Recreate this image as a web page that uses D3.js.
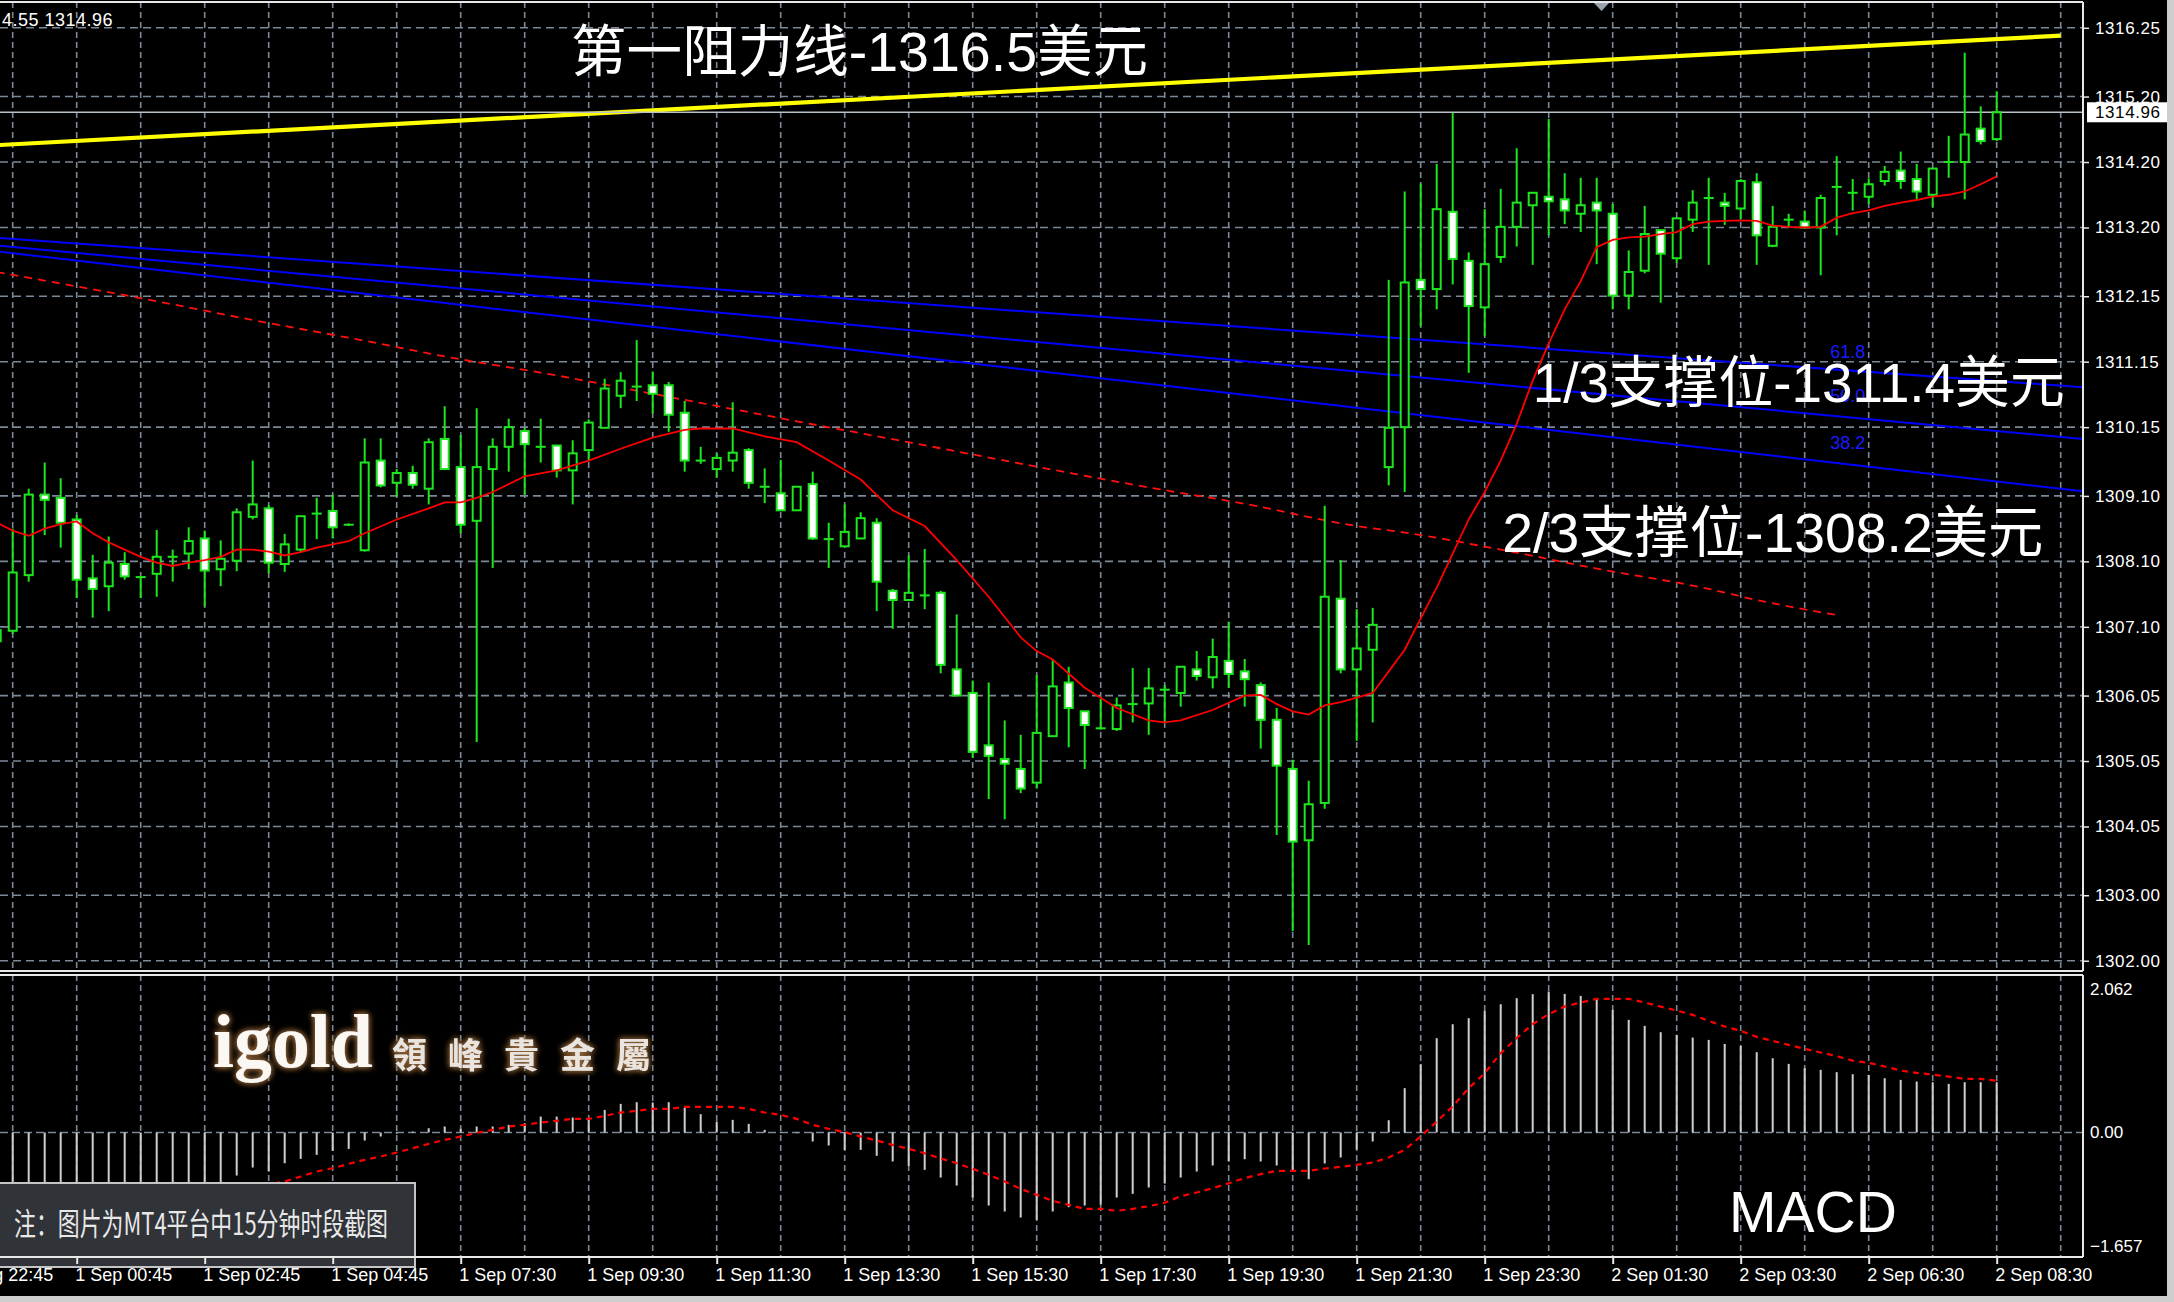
<!DOCTYPE html>
<html><head><meta charset="utf-8">
<script src="https://cdn.jsdelivr.net/npm/d3@7"></script>
<style>
html,body{margin:0;padding:0;background:#000;overflow:hidden;}
svg{display:block;}
</style></head><body>
<svg id="c" width="2174" height="1302"></svg>
<script>
// ---------------- DATA ----------------
const firstIndex = -1; // candle index of first entry (15-minute bars)
const opens = [1306.88,1307.04,1307.89,1309.12,1309.07,1308.74,1307.84,1307.72,1308.06,1307.86,1307.91,1308.17,1308.22,1308.45,1307.98,1308.11,1308.78,1308.91,1308.06,1308.28,1308.83,1308.87,1308.66,1308.27,1309.64,1309.30,1309.45,1309.21,1309.97,1309.54,1308.72,1309.51,1309.85,1310.09,1309.85,1309.87,1309.49,1309.80,1310.14,1310.63,1310.77,1310.79,1310.79,1310.37,1309.64,1309.51,1309.64,1309.80,1309.24,1309.14,1308.88,1309.28,1308.44,1308.33,1308.45,1308.69,1307.65,1307.51,1307.58,1307.62,1306.45,1306.09,1305.29,1305.08,1304.93,1304.72,1305.43,1306.25,1305.81,1305.55,1305.54,1305.92,1305.93,1306.14,1306.09,1306.45,1306.33,1306.58,1306.42,1306.21,1305.68,1304.93,1303.84,1304.41,1307.53,1306.45,1306.75,1309.54,1310.15,1312.40,1312.26,1313.44,1312.69,1311.98,1312.75,1313.21,1313.54,1313.67,1313.63,1313.41,1313.58,1313.41,1312.16,1312.54,1313.16,1312.73,1313.32,1313.65,1313.58,1313.49,1313.89,1312.92,1313.32,1313.29,1313.20,1313.82,1313.73,1313.67,1313.91,1314.07,1313.94,1313.70,1314.20,1314.20,1314.71,1314.55];
const highs = [1307.30,1308.60,1309.21,1309.61,1309.37,1308.81,1308.20,1308.48,1308.24,1307.87,1308.58,1308.28,1308.62,1308.57,1308.42,1308.91,1309.64,1308.96,1308.52,1308.79,1309.07,1309.12,1308.68,1309.98,1309.98,1309.51,1309.56,1309.98,1310.47,1310.03,1310.44,1309.98,1310.28,1310.14,1310.28,1309.87,1309.95,1310.27,1310.89,1310.99,1311.48,1311.00,1310.84,1310.55,1309.85,1309.75,1310.53,1309.83,1309.52,1309.65,1309.24,1309.47,1308.69,1308.97,1308.85,1308.76,1307.68,1308.19,1308.29,1307.65,1307.29,1306.28,1306.25,1305.67,1305.45,1306.36,1306.61,1306.49,1305.81,1306.00,1306.02,1306.47,1306.47,1306.21,1306.49,1306.73,1306.92,1307.18,1306.61,1306.25,1305.86,1305.07,1304.75,1308.95,1308.12,1307.37,1307.39,1312.40,1313.75,1313.87,1314.17,1314.95,1312.82,1313.48,1313.79,1314.41,1313.73,1314.86,1314.03,1313.96,1313.96,1313.56,1312.85,1313.53,1313.16,1313.34,1313.77,1313.96,1313.73,1313.94,1314.03,1313.53,1313.41,1313.46,1313.70,1314.29,1313.94,1313.95,1314.14,1314.36,1314.17,1314.10,1314.60,1315.87,1315.05,1315.28];
const lows = [1306.70,1306.99,1307.79,1308.50,1308.31,1307.54,1307.24,1307.34,1307.82,1307.54,1307.56,1307.79,1307.98,1307.41,1307.72,1307.95,1308.74,1307.92,1307.94,1308.24,1308.44,1308.45,1308.64,1308.25,1309.23,1309.09,1309.21,1308.97,1309.51,1308.53,1305.34,1308.00,1309.47,1309.12,1309.61,1309.38,1308.97,1309.64,1310.14,1310.44,1310.55,1310.36,1310.08,1309.47,1309.59,1309.38,1309.47,1309.21,1308.99,1308.88,1308.88,1308.43,1308.00,1308.33,1308.45,1307.34,1307.07,1307.51,1307.37,1306.39,1306.05,1305.10,1304.47,1304.16,1304.56,1304.63,1305.43,1305.26,1304.93,1305.53,1305.51,1305.64,1305.45,1305.64,1305.88,1306.28,1306.16,1306.17,1305.88,1305.24,1303.92,1302.45,1302.24,1304.32,1306.39,1305.36,1305.64,1309.26,1309.16,1311.69,1311.95,1312.33,1310.98,1311.54,1312.66,1312.91,1312.63,1313.08,1313.25,1313.13,1312.64,1311.95,1311.95,1312.50,1312.05,1312.66,1313.13,1312.63,1313.24,1313.32,1312.63,1312.90,1313.20,1313.18,1312.47,1313.08,1313.46,1313.56,1313.84,1313.79,1313.63,1313.51,1313.96,1313.63,1314.47,1314.52];
const closes = [1307.05,1307.93,1309.12,1309.04,1308.69,1307.82,1307.68,1308.08,1307.87,1307.86,1308.17,1308.17,1308.41,1307.96,1308.14,1308.85,1308.97,1308.08,1308.36,1308.79,1308.83,1308.62,1308.66,1309.61,1309.26,1309.45,1309.27,1309.92,1309.51,1308.66,1309.54,1309.85,1310.15,1309.89,1309.85,1309.49,1309.75,1310.22,1310.74,1310.86,1310.77,1310.66,1310.34,1309.64,1309.64,1309.68,1309.76,1309.30,1309.24,1308.88,1309.24,1308.45,1308.44,1308.55,1308.76,1307.79,1307.51,1307.62,1307.58,1306.52,1306.05,1305.19,1305.13,1305.01,1304.63,1305.48,1306.19,1305.86,1305.60,1305.55,1305.90,1305.92,1306.16,1306.14,1306.49,1306.35,1306.64,1306.38,1306.30,1305.68,1304.98,1303.82,1304.39,1307.56,1306.45,1306.77,1307.13,1310.14,1312.36,1312.26,1313.48,1312.72,1312.00,1312.64,1313.21,1313.58,1313.73,1313.60,1313.46,1313.54,1313.46,1312.16,1312.52,1313.10,1312.80,1313.34,1313.58,1313.65,1313.53,1313.91,1313.08,1313.21,1313.32,1313.20,1313.65,1313.82,1313.73,1313.86,1314.05,1313.91,1313.75,1314.10,1314.20,1314.62,1314.52,1314.96];

// moving average (solid red), read at these candle indices
const maK = [-1,0,1,2,3,4,5,6,7,8,9,10,11,12,13,14,15,16,17,18,19,20,21,22,24,26,27,28,29,30,32,34,36,38,40,42,43,45,47,49,51,53,55,57,59,61,63,64,65,67,69,71,72,73,75,77,78,79,80,81,82,83,84,85,86,87,88,89,90,91,92,93,94,95,96,97,98,99,100,101,102,103,104,105,106,107,108,109,110,111,112,113,114,115,116,117,118,119,120,121,122,123,124];
const maV = [1308.69,1308.57,1308.49,1308.60,1308.67,1308.71,1308.53,1308.39,1308.28,1308.17,1308.08,1308.03,1308.08,1308.12,1308.17,1308.28,1308.28,1308.25,1308.19,1308.24,1308.31,1308.36,1308.41,1308.53,1308.74,1308.91,1309.00,1309.00,1309.07,1309.16,1309.40,1309.49,1309.64,1309.82,1309.99,1310.11,1310.13,1310.13,1310.01,1309.92,1309.64,1309.35,1308.88,1308.64,1308.12,1307.56,1306.94,1306.73,1306.60,1306.17,1305.86,1305.67,1305.64,1305.67,1305.83,1306.05,1306.06,1305.92,1305.81,1305.76,1305.90,1305.95,1306.02,1306.09,1306.42,1306.75,1307.23,1307.70,1308.22,1308.74,1309.16,1309.64,1310.20,1310.86,1311.43,1311.95,1312.38,1312.90,1313.01,1313.05,1313.06,1313.10,1313.13,1313.25,1313.29,1313.30,1313.31,1313.30,1313.23,1313.21,1313.20,1313.21,1313.35,1313.42,1313.46,1313.53,1313.58,1313.62,1313.67,1313.70,1313.75,1313.86,1313.98];

// long moving average (dashed red)
const maLongK = [-1,8,16,22,27,34,40,49,56,65,71,77,84,87,93,99,106,109,114];
const maLongV = [1312.52,1312.12,1311.74,1311.47,1311.23,1310.94,1310.66,1310.24,1309.92,1309.50,1309.23,1308.98,1308.64,1308.54,1308.28,1307.99,1307.68,1307.51,1307.28];

// resistance trend line (yellow) and fibonacci fan lines (blue)
const resistK = [-0.8, 128];
const resistP = [1314.46, 1316.13];
const fibK = [-0.8, 129.4];
const fibNames = ["61.8", "50.0", "38.2"];
const fib618 = [1313.04, 1310.76];
const fib500 = [1312.92, 1309.97];
const fib382 = [1312.83, 1309.17];
const fibLabelK = 113.6;
const fibLabelP = [1311.21, 1310.54, 1309.82];

const lastPrice = 1314.96;

// MACD histogram (one per candle, from firstIndex)
const macd = [-0.95,-0.93,-0.90,-0.86,-0.83,-0.84,-0.86,-0.85,-0.83,-0.81,-0.78,-0.75,-0.72,-0.70,-0.67,-0.570,-0.464,-0.517,-0.407,-0.349,-0.296,-0.243,-0.217,-0.106,-0.053,-0.013,0.013,0.057,0.080,0.049,0.080,0.080,0.102,0.124,0.212,0.212,0.199,0.181,0.300,0.380,0.402,0.398,0.402,0.331,0.243,0.146,0.168,0.115,0.035,0.009,-0.009,-0.119,-0.172,-0.230,-0.230,-0.309,-0.384,-0.442,-0.495,-0.597,-0.703,-0.862,-0.968,-1.047,-1.127,-1.158,-1.047,-0.990,-0.968,-0.959,-0.862,-0.813,-0.729,-0.676,-0.597,-0.517,-0.437,-0.384,-0.354,-0.384,-0.437,-0.517,-0.619,-0.411,-0.331,-0.225,-0.119,0.163,0.588,0.906,1.251,1.436,1.516,1.613,1.701,1.781,1.834,1.869,1.838,1.812,1.772,1.626,1.494,1.414,1.330,1.295,1.259,1.228,1.175,1.149,1.065,0.985,0.910,0.853,0.831,0.800,0.773,0.764,0.720,0.698,0.676,0.667,0.645,0.667,0.667,0.667];
// MACD signal line (dotted red) starting at candle 15
const signalStart = 15;
const signal = [-0.72,-0.685,-0.650,-0.583,-0.517,-0.473,-0.415,-0.362,-0.318,-0.265,-0.208,-0.150,-0.097,-0.053,-0.004,0.035,0.080,0.102,0.133,0.155,0.181,0.181,0.221,0.265,0.287,0.314,0.314,0.340,0.340,0.340,0.340,0.314,0.265,0.234,0.181,0.102,0.049,0.004,-0.053,-0.106,-0.164,-0.217,-0.274,-0.345,-0.407,-0.482,-0.561,-0.650,-0.747,-0.826,-0.906,-0.959,-1.012,-1.012,-1.038,-1.012,-0.977,-0.932,-0.844,-0.795,-0.738,-0.672,-0.605,-0.552,-0.508,-0.508,-0.508,-0.477,-0.455,-0.429,-0.398,-0.331,-0.230,-0.053,0.146,0.345,0.588,0.787,1.052,1.251,1.436,1.569,1.670,1.723,1.772,1.772,1.772,1.723,1.670,1.617,1.560,1.480,1.405,1.348,1.268,1.215,1.162,1.109,1.061,1.012,0.954,0.924,0.875,0.822,0.791,0.769,0.742,0.711,0.711,0.685];
const macdTop = 2.062, macdBottom = -1.657;

// axis labels
const priceTicks = [1316.25,1315.20,1314.20,1313.20,1312.15,1311.15,1310.15,1309.10,1308.10,1307.10,1306.05,1305.05,1304.05,1303.00,1302.00];
const timeLabels = ["31 Aug 22:45","1 Sep 00:45","1 Sep 02:45","1 Sep 04:45","1 Sep 07:30","1 Sep 09:30","1 Sep 11:30","1 Sep 13:30","1 Sep 15:30","1 Sep 17:30","1 Sep 19:30","1 Sep 21:30","1 Sep 23:30","2 Sep 01:30","2 Sep 03:30","2 Sep 06:30","2 Sep 08:30"];
const timeLabelK = [-4,4,12,20,28,36,44,52,60,68,76,84,92,100,108,116,124];

const annotations = [
  {text:"第一阻力线-1316.5美元", k:34.9, p:1315.59, len:577},
  {text:"1/3支撑位-1311.4美元", k:95.0, p:1310.53, len:532},
  {text:"2/3支撑位-1308.2美元", k:93.1, p:1308.25, len:541}
];

// ---------------- DRAW ----------------
const svg = d3.select("#c");
const W = 2174, H = 1302;
const paneR = 2083, mainTop = 2, mainBot = 971, macdTopY = 975, macdBotY = 1257;
const green = "#1ee61e", grid = "#7a8898";

const x = d3.scaleLinear().domain([0, 124]).range([12.7, 1996.7]);
const y = d3.scaleLinear().domain([1301.843, 1316.675]).range([971, 0]);
const m = d3.scaleLinear().domain([macdBottom, macdTop]).range([1257.5, 977]);

svg.append("rect").attr("width", W).attr("height", H).attr("fill", "#000");

const defs = svg.append("defs");
defs.append("clipPath").attr("id","mainClip").append("rect")
  .attr("x",0).attr("y",mainTop).attr("width",paneR).attr("height",mainBot-mainTop);
defs.append("clipPath").attr("id","macdClip").append("rect")
  .attr("x",0).attr("y",macdTopY).attr("width",paneR).attr("height",macdBotY-macdTopY);
const glow = defs.append("filter").attr("id","glow").attr("x","-20%").attr("y","-30%").attr("width","140%").attr("height","160%");
glow.append("feGaussianBlur").attr("in","SourceAlpha").attr("stdDeviation",3).attr("result","b");
glow.append("feFlood").attr("flood-color","#9a6a3a").attr("flood-opacity",0.95);
glow.append("feComposite").attr("in2","b").attr("operator","in").attr("result","g");
const fm = glow.append("feMerge");
fm.append("feMergeNode").attr("in","g");
fm.append("feMergeNode").attr("in","g");
fm.append("feMergeNode").attr("in","SourceGraphic");

// ---- main pane ----
const main = svg.append("g").attr("clip-path","url(#mainClip)");
const gridK = d3.range(0, 129, 4);
main.selectAll("line.vg").data(gridK).join("line")
  .attr("x1", d=>x(d)).attr("x2", d=>x(d)).attr("y1", mainTop).attr("y2", mainBot)
  .attr("stroke", grid).attr("stroke-width",1.6).attr("stroke-dasharray","6,4");
main.selectAll("line.hg").data(priceTicks).join("line")
  .attr("x1",0).attr("x2",paneR).attr("y1",d=>y(d)).attr("y2",d=>y(d))
  .attr("stroke", grid).attr("stroke-width",1.6).attr("stroke-dasharray","8,5");

// fib fan lines
[fib618, fib500, fib382].forEach(f=>{
  main.append("path").attr("d", d3.line()([[x(fibK[0]), y(f[0])],[x(fibK[1]), y(f[1])]]))
    .attr("stroke","#0000ff").attr("stroke-width",2).attr("fill","none");
});
main.selectAll("text.fib").data(fibNames).join("text")
  .attr("x", x(fibLabelK)).attr("y",(d,i)=>y(fibLabelP[i]))
  .attr("fill","#1a1aff").attr("font-family","Liberation Sans, Arial, sans-serif")
  .attr("font-size",18).text(d=>d);

// long MA dashed
main.append("path").datum(maLongK.map((k,i)=>[k, maLongV[i]]))
  .attr("d", d3.line().x(d=>x(d[0])).y(d=>y(d[1])).curve(d3.curveMonotoneX))
  .attr("fill","none").attr("stroke","#ff1010").attr("stroke-width",1.8).attr("stroke-dasharray","8,6");

// yellow resistance line
main.append("path").attr("d", d3.line()([[x(resistK[0]), y(resistP[0])],[x(resistK[1]), y(resistP[1])]]))
  .attr("stroke","#ffff00").attr("stroke-width",4.2).attr("fill","none");

// last price line
main.append("line").attr("x1",0).attr("x2",paneR).attr("y1",y(lastPrice)).attr("y2",y(lastPrice))
  .attr("stroke","#b8c0c8").attr("stroke-width",1.5);

// candles
const candles = opens.map((o,i)=>({k:i+firstIndex, o, h:highs[i], l:lows[i], c:closes[i]}));
main.selectAll("line.wick").data(candles).join("line")
  .attr("x1",d=>x(d.k)).attr("x2",d=>x(d.k)).attr("y1",d=>y(d.h)).attr("y2",d=>y(d.l))
  .attr("stroke",green).attr("stroke-width",2);
const bodies = candles.filter(d=>Math.abs(d.c-d.o) >= 0.02);
const dojis = candles.filter(d=>Math.abs(d.c-d.o) < 0.02);
main.selectAll("rect.body").data(bodies).join("rect")
  .attr("x",d=>x(d.k)-4).attr("width",8)
  .attr("y",d=>y(Math.max(d.o,d.c))).attr("height",d=>Math.abs(y(d.o)-y(d.c)))
  .attr("fill",d=>d.c>d.o?"#000":"#fff").attr("stroke",green).attr("stroke-width",2);
main.selectAll("line.doji").data(dojis).join("line")
  .attr("x1",d=>x(d.k)-5).attr("x2",d=>x(d.k)+5).attr("y1",d=>y(d.c)).attr("y2",d=>y(d.c))
  .attr("stroke",green).attr("stroke-width",2);

// solid MA
main.append("path").datum(maK.map((k,i)=>[k, maV[i]]))
  .attr("d", d3.line().x(d=>x(d[0])).y(d=>y(d[1])))
  .attr("fill","none").attr("stroke","#ff0000").attr("stroke-width",1.8);

// annotations
const annFont = "Liberation Sans, Arial, 'Noto Sans CJK SC', sans-serif";
svg.append("g").selectAll("text").data(annotations).join("text")
  .attr("x",d=>x(d.k)).attr("y",d=>y(d.p))
  .attr("textLength",d=>d.len).attr("lengthAdjust","spacingAndGlyphs")
  .attr("font-family",annFont).attr("font-size",56).attr("fill","#fff").text(d=>d.text);

// info text top-left & shift marker
svg.append("text").attr("x",2).attr("y",26).attr("fill","#fff")
  .attr("font-family","Liberation Sans, Arial, sans-serif").attr("font-size",18)
  .attr("letter-spacing",0.5).text("4.55 1314.96");
svg.append("path").attr("d","M1594,3 L1609,3 L1601.5,11 Z").attr("fill","#9aa4ae");

// ---- MACD pane ----
const mp = svg.append("g").attr("clip-path","url(#macdClip)");
mp.selectAll("line.vg").data(gridK).join("line")
  .attr("x1", d=>x(d)).attr("x2", d=>x(d)).attr("y1", macdTopY).attr("y2", macdBotY)
  .attr("stroke", grid).attr("stroke-width",1.6).attr("stroke-dasharray","6,4");
mp.append("line").attr("x1",0).attr("x2",paneR).attr("y1",m(0)).attr("y2",m(0))
  .attr("stroke", grid).attr("stroke-width",1.6).attr("stroke-dasharray","8,4");
mp.selectAll("line.hist").data(macd).join("line")
  .attr("x1",(d,i)=>x(i+firstIndex)).attr("x2",(d,i)=>x(i+firstIndex))
  .attr("y1",m(0)).attr("y2",d=>m(d))
  .attr("stroke","#cfcfcf").attr("stroke-width",2);
mp.append("path").datum(signal.map((v,i)=>[i+signalStart, v]))
  .attr("d", d3.line().x(d=>x(d[0])).y(d=>m(d[1])))
  .attr("fill","none").attr("stroke","#ff0000").attr("stroke-width",2.2).attr("stroke-dasharray","6,5");

// logo
svg.append("text").attr("x",213).attr("y",1067).attr("fill","#fbf7f2").attr("filter","url(#glow)")
  .attr("font-family","Liberation Serif, 'Times New Roman', serif").attr("font-weight","bold")
  .attr("font-size",76).attr("textLength",160).attr("lengthAdjust","spacingAndGlyphs").text("igold");
svg.append("text").attr("x",392).attr("y",1068).attr("fill","#e9e4de").attr("filter","url(#glow)")
  .attr("font-family","'Noto Sans CJK TC', sans-serif").attr("font-weight","bold")
  .attr("font-size",35).attr("letter-spacing",21).text("領峰貴金屬");

// MACD label
svg.append("text").attr("x",1729).attr("y",1232).attr("fill","#fff")
  .attr("font-family","Liberation Sans, Arial, sans-serif").attr("font-size",57).text("MACD");

// note box
svg.append("rect").attr("x",-2).attr("y",1183).attr("width",417).attr("height",84)
  .attr("fill","#303338").attr("stroke","#c4c4c4").attr("stroke-width",2);
svg.append("text").attr("x",14).attr("y",1235).attr("fill","#e8e8e8")
  .attr("font-family","'Noto Sans CJK SC', sans-serif").attr("font-size",31)
  .attr("textLength",374).attr("lengthAdjust","spacingAndGlyphs").text("注：图片为MT4平台中15分钟时段截图");

// ---- frames ----
const frame = svg.append("g").attr("stroke","#e8e8e8").attr("stroke-width",2).attr("fill","none");
frame.append("line").attr("x1",0).attr("x2",paneR).attr("y1",mainTop).attr("y2",mainTop);
frame.append("line").attr("x1",0).attr("x2",paneR).attr("y1",mainBot).attr("y2",mainBot);
frame.append("line").attr("x1",0).attr("x2",paneR).attr("y1",macdTopY).attr("y2",macdTopY);
frame.append("line").attr("x1",0).attr("x2",paneR).attr("y1",macdBotY).attr("y2",macdBotY);
frame.append("line").attr("x1",paneR).attr("x2",paneR).attr("y1",mainTop).attr("y2",mainBot);
frame.append("line").attr("x1",paneR).attr("x2",paneR).attr("y1",macdTopY).attr("y2",macdBotY);

// ---- axes ----
const axFont = "Liberation Sans, Arial, sans-serif";
const pAxis = svg.append("g").attr("transform",`translate(${paneR},0)`)
  .call(d3.axisRight(y).tickValues(priceTicks).tickFormat(d3.format(".2f")).tickSize(6).tickPadding(6));
pAxis.select(".domain").remove();
pAxis.selectAll("line").attr("stroke","#e8e8e8").attr("stroke-width",1.5);
pAxis.selectAll("text").attr("fill","#fff").attr("font-family",axFont).attr("font-size",17).attr("letter-spacing",0.6);

// current price label
svg.append("rect").attr("x",2087).attr("y",y(lastPrice)-10).attr("width",80).attr("height",20).attr("fill","#fff");
svg.append("text").attr("x",2095).attr("y",y(lastPrice)).attr("dy","0.35em").attr("fill","#000")
  .attr("font-family",axFont).attr("font-size",17).attr("letter-spacing",0.6).text(d3.format(".2f")(lastPrice));

// macd labels
const macdLabels = [{v:macdTop, dy:"1.05em"},{v:0, dy:"0.35em"},{v:macdBottom, dy:"-0.35em"}];
svg.selectAll("text.ml").data(macdLabels).join("text")
  .attr("x",2090).attr("y",d=>m(d.v)).attr("dy",d=>d.dy).attr("fill","#fff")
  .attr("font-family",axFont).attr("font-size",17).text(d=>d3.format(d.v===0?".2f":".3f")(d.v));

const tAxis = svg.append("g").attr("transform",`translate(0,${macdBotY})`)
  .call(d3.axisBottom(x).tickValues(timeLabelK).tickFormat((d,i)=>timeLabels[i]).tickSize(7).tickPadding(4));
tAxis.select(".domain").remove();
tAxis.selectAll("line").attr("stroke","#e8e8e8").attr("stroke-width",2);
tAxis.selectAll("text").attr("fill","#fff").attr("font-family",axFont).attr("font-size",18)
  .attr("text-anchor","start").attr("dx",-2);

// window edges
svg.append("rect").attr("x",2167).attr("y",0).attr("width",7).attr("height",H).attr("fill","#cdcdcd");
svg.append("rect").attr("x",0).attr("y",1296).attr("width",W).attr("height",6).attr("fill","#cdcdcd");
</script>
</body></html>
